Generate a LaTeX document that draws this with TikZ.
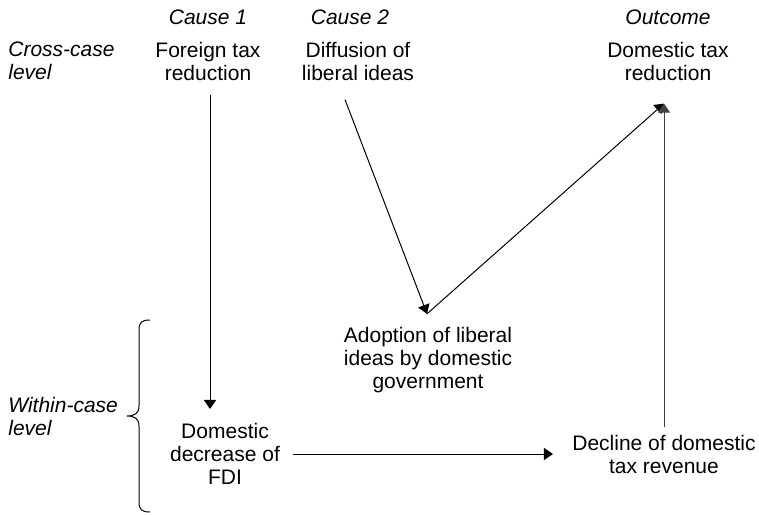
\documentclass[tikz,border=0pt]{standalone}
\usepackage{fontspec}
\setmainfont{Liberation Sans}
\usetikzlibrary{arrows.meta,calc}

\begin{document}
\begin{tikzpicture}[x=0.5pt,y=-0.5pt,
  txt/.style={align=center,inner sep=0pt,font=\fontsize{10.5}{11.5}\selectfont},
  head/.style={txt,font=\fontsize{10.5}{11.5}\selectfont\itshape},
  side/.style={head,align=left,anchor=west},
  arr/.style={-{Triangle[length=4.5pt,width=6pt]},line width=0.5pt}]
  \useasboundingbox (0,0) rectangle (759,514);
  \node[head] (cause1) at (208,17) {Cause 1};
  \node[head] (cause2) at (350,17) {Cause 2};
  \node[head] (outhead) at (668,17) {Outcome};
  \node[side] (cross) at (8,61) {Cross-case\\level};
  \node[txt] (foreign) at (208,61) {Foreign tax\\reduction};
  \node[txt] (diffusion) at (358,61) {Diffusion of\\liberal ideas};
  \node[txt] (outcome) at (668,61) {Domestic tax\\reduction};
  \node[txt] (adoption) at (428,360) {Adoption of liberal\\ideas by domestic\\government};
  \node[side] (within) at (8,416) {Within-case\\level};
  \node[txt] (fdi) at (225,454) {Domestic\\decrease of\\FDI};
  \node[txt] (decline) at (664,454) {Decline of domestic\\tax revenue};
  \draw[arr,shorten <=7pt,shorten >=7pt] ([xshift=1pt]foreign.south) -- ([xshift=1pt]foreign.south |- fdi.north);
  \draw[arr] ($(diffusion.south)+(-13,19)$) -- ($(adoption.north)+(-1,-13)$);
  \draw[arr] ($(adoption.north)+(-1,-13)$) -- ($(decline.north |- outcome.south)+(0,23)$);
  \draw[arr,black!75,shorten <=3.5pt] (decline.north) -- ($(decline.north |- outcome.south)+(0,23)$);
  \draw[arr,shorten <=6.5pt,shorten >=9.5pt] (fdi.east) -- (decline.west);
  \draw[line width=0.5pt] (150,320) .. controls (142,320) and (139,322) .. (139,330) -- (139,406)
    .. controls (139,413) and (135,416) .. (127,416) .. controls (135,416) and (139,419) .. (139,426)
    -- (139,502) .. controls (139,510) and (142,512) .. (150,512);
\end{tikzpicture}
\end{document}
